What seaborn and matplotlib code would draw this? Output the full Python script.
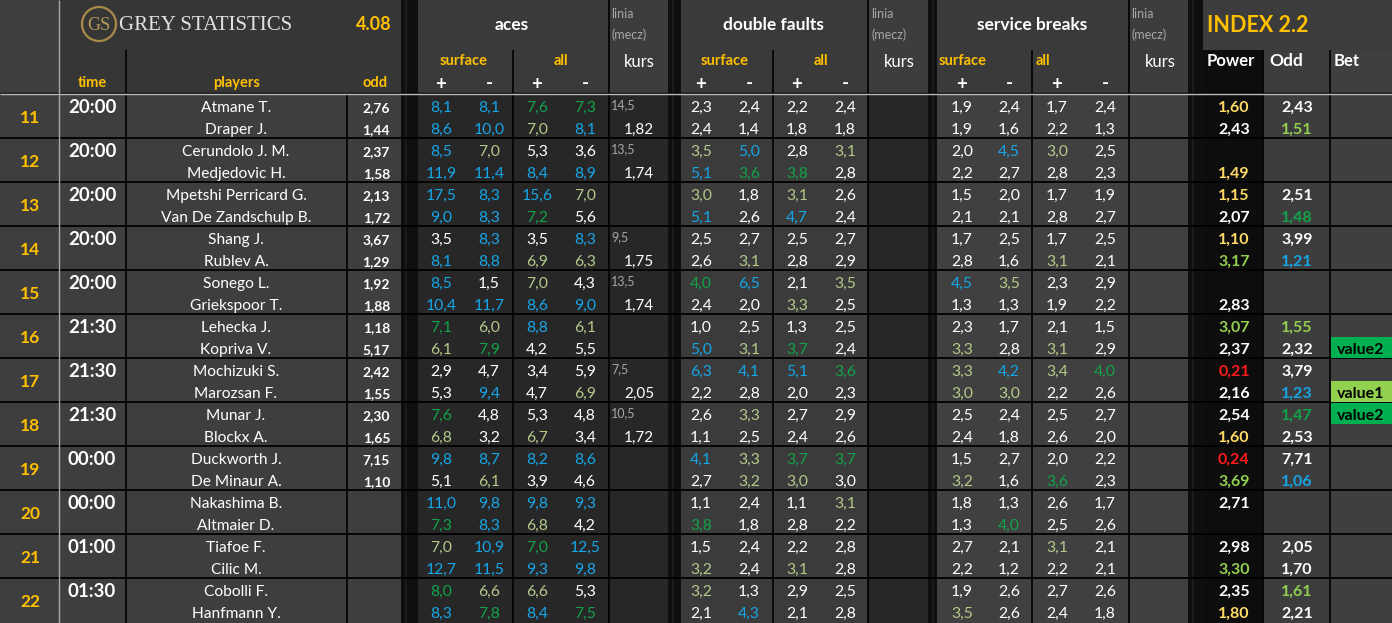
import matplotlib
matplotlib.use("Agg")
import matplotlib.pyplot as plt
import seaborn as sns
from matplotlib.patches import Rectangle, Circle

# ---------------- DATA ----------------
group_ids = [11, 12, 13, 14, 15, 16, 17, 18, 19, 20, 21, 22]
match_times = ["20:00", "20:00", "20:00", "20:00", "20:00", "21:30",
               "21:30", "21:30", "00:00", "00:00", "01:00", "01:30"]
players = ["Atmane T.", "Draper J.", "Cerundolo J. M.", "Medjedovic H.",
           "Mpetshi Perricard G.", "Van De Zandschulp B.", "Shang J.", "Rublev A.",
           "Sonego L.", "Griekspoor T.", "Lehecka J.", "Kopriva V.",
           "Mochizuki S.", "Marozsan F.", "Munar J.", "Blockx A.",
           "Duckworth J.", "De Minaur A.", "Nakashima B.", "Altmaier D.",
           "Tiafoe F.", "Cilic M.", "Cobolli F.", "Hanfmann Y."]
player_odds = [2.76, 1.44, 2.37, 1.58, 2.13, 1.72, 3.67, 1.29, 1.92, 1.88, 1.18, 5.17,
               2.42, 1.55, 2.30, 1.65, 7.15, 1.10, None, None, None, None, None, None]

# aces: surface +, surface -, all +, all -
aces = [[8.1, 8.1, 7.6, 7.3], [8.6, 10.0, 7.0, 8.1],
        [8.5, 7.0, 5.3, 3.6], [11.9, 11.4, 8.4, 8.9],
        [17.5, 8.3, 15.6, 7.0], [9.0, 8.3, 7.2, 5.6],
        [3.5, 8.3, 3.5, 8.3], [8.1, 8.8, 6.9, 6.3],
        [8.5, 1.5, 7.0, 4.3], [10.4, 11.7, 8.6, 9.0],
        [7.1, 6.0, 8.8, 6.1], [6.1, 7.9, 4.2, 5.5],
        [2.9, 4.7, 3.4, 5.9], [5.3, 9.4, 4.7, 6.9],
        [7.6, 4.8, 5.3, 4.8], [6.8, 3.2, 6.7, 3.4],
        [9.8, 8.7, 8.2, 8.6], [5.1, 6.1, 3.9, 4.6],
        [11.0, 9.8, 9.8, 9.3], [7.3, 8.3, 6.8, 4.2],
        [7.0, 10.9, 7.0, 12.5], [12.7, 11.5, 9.3, 9.8],
        [8.0, 6.6, 6.6, 5.3], [8.3, 7.8, 8.4, 7.5]]
aces_flags = ["BBGG", "BBKB", "BKWW", "BBBB", "BBBK", "BBGW", "WBWB", "BBKK",
              "BWKW", "BBBB", "GKBK", "KGWW", "WWWW", "WBWK", "GWWW", "KWKW",
              "BBBB", "WKWW", "BBBB", "GBKW", "KBGB", "BBBB", "GKKW", "BGBG"]
aces_line = [14.5, 13.5, None, 9.5, 13.5, None, 7.5, 10.5, None, None, None, None]
aces_price = [1.82, 1.74, None, 1.75, 1.74, None, 2.05, 1.72, None, None, None, None]

double_faults = [[2.3, 2.4, 2.2, 2.4], [2.4, 1.4, 1.8, 1.8],
                 [3.5, 5.0, 2.8, 3.1], [5.1, 3.6, 3.8, 2.8],
                 [3.0, 1.8, 3.1, 2.6], [5.1, 2.6, 4.7, 2.4],
                 [2.5, 2.7, 2.5, 2.7], [2.6, 3.1, 2.8, 2.9],
                 [4.0, 6.5, 2.1, 3.5], [2.4, 2.0, 3.3, 2.5],
                 [1.0, 2.5, 1.3, 2.5], [5.0, 3.1, 3.7, 2.4],
                 [6.3, 4.1, 5.1, 3.6], [2.2, 2.8, 2.0, 2.3],
                 [2.6, 3.3, 2.7, 2.9], [1.1, 2.5, 2.4, 2.6],
                 [4.1, 3.3, 3.7, 3.7], [2.7, 3.2, 3.0, 3.0],
                 [1.1, 2.4, 1.1, 3.1], [3.8, 1.8, 2.8, 2.2],
                 [1.5, 2.4, 2.2, 2.8], [3.2, 2.4, 3.1, 2.8],
                 [3.2, 1.3, 2.9, 2.5], [2.1, 4.3, 2.1, 2.8]]
df_flags = ["WWWW", "WWWW", "KBWK", "BGGW", "KWKW", "BWBW", "WWWW", "WKWW",
            "GBWK", "WWKW", "WWWW", "BKGW", "BBBG", "WWWW", "WKWW", "WWWW",
            "BKGG", "WKKW", "WWWK", "GWWW", "WWWW", "KWKW", "KWWW", "WBWW"]

service_breaks = [[1.9, 2.4, 1.7, 2.4], [1.9, 1.6, 2.2, 1.3],
                  [2.0, 4.5, 3.0, 2.5], [2.2, 2.7, 2.8, 2.3],
                  [1.5, 2.0, 1.7, 1.9], [2.1, 2.1, 2.8, 2.7],
                  [1.7, 2.5, 1.7, 2.5], [2.8, 1.6, 3.1, 2.1],
                  [4.5, 3.5, 2.3, 2.9], [1.3, 1.3, 1.9, 2.2],
                  [2.3, 1.7, 2.1, 1.5], [3.3, 2.8, 3.1, 2.9],
                  [3.3, 4.2, 3.4, 4.0], [3.0, 3.0, 2.2, 2.6],
                  [2.5, 2.4, 2.5, 2.7], [2.4, 1.8, 2.6, 2.0],
                  [1.5, 2.7, 2.0, 2.2], [3.2, 1.6, 3.6, 2.3],
                  [1.8, 1.3, 2.6, 1.7], [1.3, 4.0, 2.5, 2.6],
                  [2.7, 2.1, 3.1, 2.1], [2.2, 1.2, 2.2, 2.1],
                  [1.9, 2.6, 2.7, 2.6], [3.5, 2.6, 2.4, 1.8]]
sb_flags = ["WWWW", "WWWW", "WBKW", "WWWW", "WWWW", "WWWW", "WWWW", "WWKW",
            "BKWW", "WWWW", "WWWW", "KWKW", "KBKG", "KKWW", "WWWW", "WWWW",
            "WWWW", "KWGW", "WWWW", "WGWW", "WWKW", "WWWW", "WWWW", "KWWW"]

power = [1.60, 2.43, None, 1.49, 1.15, 2.07, 1.10, 3.17, None, 2.83, 3.07, 2.37,
         0.21, 2.16, 2.54, 1.60, 0.24, 3.69, 2.71, None, 2.98, 3.30, 2.35, 1.80]
power_flags = "YW-YYWYL-WLWRWWYRLW-WLWY"
index_odd = [2.43, 1.51, None, None, 2.51, 1.48, 3.99, 1.21, None, None, 1.55, 2.32,
             3.79, 1.23, 1.47, 2.53, 7.71, 1.06, None, None, 2.05, 1.70, 1.61, 2.21]
odd_flags = "WL--WGWB--LWWBGWWB--WWLW"
bets = [None, None, None, None, None, None, None, None, None, None, None, "value2",
        None, "value1", "value2", None, None, None, None, None, None, None, None, None]

# ---------------- STYLE ----------------
sns.set_theme(style="dark", rc={"figure.facecolor": "#3a3a3a",
                                "axes.facecolor": "#3a3a3a"})
plt.rcParams["font.family"] = ["Lato", "DejaVu Sans"]

PAL = {"W": "#ffffff", "B": "#16a5e6", "G": "#12a24a", "K": "#b3c98a",
       "Y": "#ffd966", "L": "#92d050", "R": "#ff1a1a", "-": "#ffffff"}
GOLD = "#ffc000"
GREY_TXT = "#a6a6a6"
BET_BG = {"value1": "#92d050", "value2": "#00b050"}

W, H = 1392, 623
fig = plt.figure(figsize=(W / 100, H / 100), dpi=100)
ax = fig.add_axes([0, 0, 1, 1])
ax.set_xlim(0, W)
ax.set_ylim(H, 0)
ax.axis("off")


def rect(x0, y0, x1, y1, c, z=0):
    ax.add_patch(Rectangle((x0, y0), x1 - x0, y1 - y0, fc=c, ec="none", zorder=z))


def vline(x, y0, y1, c="#000000", lw=1.2, z=2):
    ax.plot([x, x], [y0, y1], color=c, lw=lw, zorder=z, solid_capstyle="butt")


def hline(y, x0, x1, c="#000000", lw=1.2, z=2):
    ax.plot([x0, x1], [y, y], color=c, lw=lw, zorder=z, solid_capstyle="butt")


def txt(x, y, s, c="#ffffff", size=10.5, weight="normal", ha="center", va="baseline",
        family=None):
    kw = {}
    if family:
        kw["family"] = family
    ax.text(x, y, s, color=c, fontsize=size, fontweight=weight, ha=ha, va=va,
            zorder=5, **kw)


def fmt1(v):
    return f"{v:.1f}".replace(".", ",")


def fmt2(v):
    return f"{v:.2f}".replace(".", ",")


TOP = 94
GH = 44
HDR2 = 50

# ---------------- BACKGROUNDS ----------------
rect(0, 0, W, H, "#3a3a3a")
rect(0, 0, 59, H, "#3e3e3e")
rect(59, 0, 401, TOP, "#363636")
rect(59, TOP, 401, H, "#3e3e3e")
rect(418, 0, 668, TOP, "#3a3a3a")
rect(609, 0, 668, TOP, "#3d3d3d")
rect(418, TOP, 668, H, "#272727")
rect(681, 0, 928, TOP, "#3a3a3a")
rect(868, 0, 928, TOP, "#3d3d3d")
rect(681, TOP, 868, H, "#3b3b3b")
rect(868, TOP, 928, H, "#262626")
rect(937, 0, 1188, TOP, "#3a3a3a")
rect(1129, 0, 1188, TOP, "#3d3d3d")
rect(937, TOP, 1188, H, "#404040")
rect(1203, 0, W, HDR2, "#3c3c3c")
rect(1203, HDR2, 1263, H, "#0d0d0d")
rect(1263, HDR2, 1330, H, "#3d3d3d")
rect(1330, HDR2, W, H, "#3f3f3f")
for x0, x1 in [(401, 418), (668, 681), (928, 937), (1188, 1203)]:
    rect(x0, 0, x1, H, "#0f0f0f", z=1)
    rect(x0 + 4, 0, x0 + 6, H, "#1c1c1c", z=1)

# ---------------- GRID LINES ----------------
for g in range(1, len(group_ids)):
    hline(TOP + g * GH, 0, W, lw=1.3)
for x in [126, 513, 773, 1032]:
    vline(x, HDR2, H)
for x in [347]:
    vline(x, TOP, H)
for x in [609, 868, 1129]:
    vline(x, 0, H)
for x in [1263, 1330]:
    vline(x, HDR2, H)
hline(TOP - 1.5, 0, W, c="#000000", lw=1.0)
hline(TOP, 0, W, c="#bdbdbd", lw=1.0, z=3)
vline(59, 0, H, c="#a8a8a8", lw=1.0, z=3)

# ---------------- HEADER ----------------
ax.add_patch(Circle((99, 24), 17, fill=False, ec="#a88c48", lw=1.6, zorder=4))
txt(99, 25, "GS", c="#b39a5a", size=13, va="center", family=["Liberation Serif"])
txt(119, 25, "GREY STATISTICS", c="#e2e2e2", size=15, ha="left", va="center",
    family=["Liberation Serif"])
txt(374, 25, "4.08", c=GOLD, size=13, weight="bold", va="center")

txt(92, 83, "time", c=GOLD, size=10.5, weight="bold", va="center")
txt(237, 83, "players", c=GOLD, size=10.5, weight="bold", va="center")
txt(375, 83, "odd", c=GOLD, size=10.5, weight="bold", va="center")

blocks = [
    ("aces", 512, 464, "center", 561, "center", [441, 489, 537, 585], 611, 639),
    ("double faults", 773, 725, "center", 821, "center", [701, 749, 797, 845], 871, 899),
    ("service breaks", 1032, 939, "left", 1036, "left", [962, 1009, 1057, 1105], 1131, 1160),
]
for name, xc, xs, has, xa, haa, cols, xl, xk in blocks:
    txt(xc, 25, name, size=12.5, weight="bold", va="center")
    txt(xs, 61, "surface", c=GOLD, size=10.5, weight="bold", ha=has, va="center")
    txt(xa, 61, "all", c=GOLD, size=10.5, weight="bold", ha=haa, va="center")
    for i, sym in enumerate(["+", "-", "+", "-"]):
        txt(cols[i], 84, sym, size=13.5, weight="bold", va="center")
    txt(xl, 14, "linia", c=GREY_TXT, size=9, ha="left", va="center")
    txt(xl, 35, "(mecz)", c=GREY_TXT, size=9, ha="left", va="center")
    txt(xk, 62, "kurs", size=12, va="center")

txt(1207, 26, "INDEX 2.2", c=GOLD, size=15.5, weight="bold", ha="left", va="center")
txt(1207, 61, "Power", size=12, weight="bold", ha="left", va="center")
txt(1269, 61, "Odd", size=12.5, weight="bold", ha="left", va="center")
txt(1334, 61, "Bet", size=12, weight="bold", ha="left", va="center")

# ---------------- BODY ----------------
stat_blocks = [(aces, aces_flags, blocks[0][6]),
               (double_faults, df_flags, blocks[1][6]),
               (service_breaks, sb_flags, blocks[2][6])]

for g, gid in enumerate(group_ids):
    top = TOP + g * GH
    txt(30, top + 29, str(gid), c=GOLD, size=12.5, weight="bold")
    txt(92, top + 19, match_times[g], size=13.5, weight="bold")
    if aces_line[g] is not None:
        txt(611, top + 15, fmt1(aces_line[g]), c=GREY_TXT, size=9, ha="left")
    if aces_price[g] is not None:
        txt(654, top + 40, fmt2(aces_price[g]), size=11, ha="right")
    for r in range(2):
        i = 2 * g + r
        base = top + 18 + 22 * r
        txt(236, base, players[i], size=11.2)
        if player_odds[i] is not None:
            txt(390, base, fmt2(player_odds[i]), size=10, weight="bold", ha="right")
        for vals, flags, cols in stat_blocks:
            for k in range(4):
                txt(cols[k], base, fmt1(vals[i][k]), c=PAL[flags[i][k]], size=11.3)
        if power[i] is not None:
            txt(1234, base, fmt2(power[i]), c=PAL[power_flags[i]], size=11.5, weight="bold")
        if index_odd[i] is not None:
            txt(1297, base, fmt2(index_odd[i]), c=PAL[odd_flags[i]], size=11.5, weight="bold")
        if bets[i] is not None:
            y0 = top + 22 * r + 1
            rect(1331, y0, W, y0 + 21, BET_BG[bets[i]], z=3)
            txt(1337, base, bets[i], c="#000000", size=11.5, weight="bold", ha="left")

fig.savefig("out.png", dpi=100, facecolor=fig.get_facecolor())
